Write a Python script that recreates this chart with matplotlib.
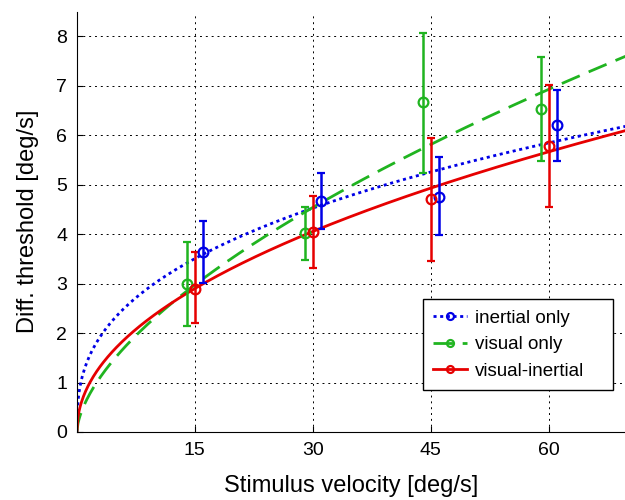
import matplotlib.pyplot as plt
import numpy as np
from matplotlib.lines import Line2D

plt.rcParams['font.family'] = ['Liberation Sans', 'DejaVu Sans']

# measured thresholds (mean, upper, lower) per condition
x_inertial = [16, 31, 46, 61]
y_inertial = [3.64, 4.67, 4.75, 6.20]
hi_inertial = [4.27, 5.24, 5.55, 6.92]
lo_inertial = [3.01, 4.10, 3.98, 5.47]

x_visual = [14, 29, 44, 59]
y_visual = [2.99, 4.03, 6.67, 6.53]
hi_visual = [3.84, 4.55, 8.07, 7.58]
lo_visual = [2.15, 3.47, 5.24, 5.48]

x_vi = [15, 30, 45, 60]
y_vi = [2.90, 4.05, 4.70, 5.78]
hi_vi = [3.63, 4.78, 5.95, 7.02]
lo_vi = [2.20, 3.32, 3.46, 4.54]

# power-law fits y = a * x^b
fit_a = [1.29, 0.57, 0.784]
fit_b = [0.369, 0.61, 0.483]

labels = ['inertial only', 'visual only', 'visual-inertial']
colors = ['#0000e6', '#20b420', '#e60000']
styles = [(0, (1.1, 1.3)), (0, (7, 3.5)), '-']

fig = plt.figure(figsize=(6.25, 5), dpi=100)
ax = fig.add_axes([0.123, 0.136, 0.877, 0.841])

xs = np.linspace(0, 70, 500)
groups = [(x_inertial, y_inertial, hi_inertial, lo_inertial),
          (x_visual, y_visual, hi_visual, lo_visual),
          (x_vi, y_vi, hi_vi, lo_vi)]

for i in range(3):
    ax.plot(xs, fit_a[i] * xs ** fit_b[i], color=colors[i], ls=styles[i], lw=2)
for i in range(3):
    x, y, hi, lo = groups[i]
    y = np.array(y)
    err = [y - np.array(lo), np.array(hi) - y]
    ax.errorbar(x, y, yerr=err, fmt='o', mfc='none', mec=colors[i], ms=7,
                mew=1.6, ecolor=colors[i], elinewidth=1.8, capsize=3, capthick=1.8)

ax.set_xlim(0, 69.7)
ax.set_ylim(0, 8.5)
ax.set_xticks([15, 30, 45, 60])
ax.set_yticks(range(9))
ax.tick_params(labelsize=14, direction='in', length=4, pad=7)
ax.grid(True, color='k', ls=(0, (2, 4)), lw=0.7)
ax.spines['top'].set_visible(False)
ax.spines['right'].set_visible(False)
ax.set_xlabel('Stimulus velocity [deg/s]', fontsize=17, labelpad=12)
ax.set_ylabel('Diff. threshold [deg/s]', fontsize=17, labelpad=12)

handles = [Line2D([], [], color=colors[i], ls=styles[i], lw=2, marker='o', ms=5,
                  mfc='none', mew=1.6) for i in range(3)]
leg = ax.legend(handles, labels, loc='lower left', mode='expand',
                bbox_to_anchor=(0.631, 0.1, 0.347, 0.214), borderaxespad=0,
                fontsize=13.5, fancybox=False, edgecolor='k', framealpha=1,
                handlelength=1.8, handletextpad=0.45, borderpad=0.55,
                labelspacing=0.5)
leg.get_frame().set_linewidth(1.0)

fig.savefig('out.png', dpi=100)
